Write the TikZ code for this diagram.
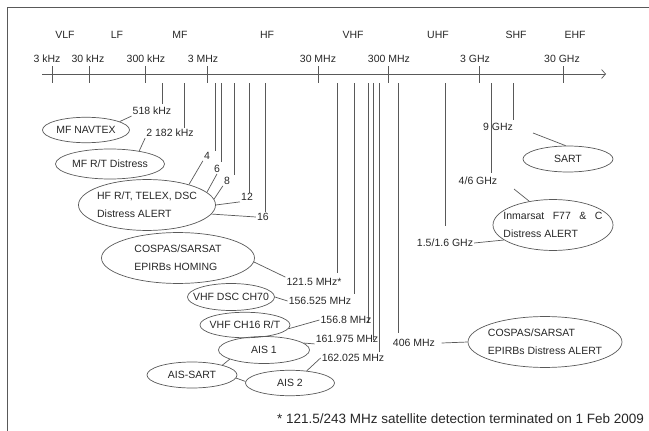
\documentclass[tikz,border=0pt]{standalone}
\usepackage{fontspec}
\setmainfont{Liberation Sans}
\usetikzlibrary{arrows.meta,shapes.geometric}

\newcommand{\bubtext}[1]{\makebox[0pt]{\begin{tabular}{@{}l@{}}#1\end{tabular}}}

\begin{document}
\begin{tikzpicture}[x=1pt, y=-1pt, font=\fontsize{10.5}{18}\selectfont, text=black!85,
        ln/.style={draw=black!65, line width=0.7pt},
        bubble/.style={draw=black!65, line width=0.7pt, ellipse, inner sep=0pt},
        lab/.style={inner sep=1pt}]
        \useasboundingbox (0,0) rectangle (649,431);
        \draw[ln] (7,431) -- (7,7) -- (649,7);

        \coordinate (axL) at (42,74);
        \coordinate (axR) at (606,74);
        \draw[ln, -{Straight Barb[length=4pt,width=9pt]}] (axL) -- (axR);
        \foreach \x/\lx/\txt [count=\i] in {52/47/3 kHz, 89/88/30 kHz, 145/146/300 kHz, 207/203/3 MHz,
                318/318/30 MHz, 388/389/300 MHz, 479/475/3 GHz, 563/562/30 GHz} {
            \draw[ln] (\x,66) -- (\x,83);
            \node[lab] (tick\i) at (\lx,59) {\txt};
        }
        \foreach \x/\txt in {65/VLF, 117/LF, 180/MF, 267/HF, 353/VHF, 438/UHF, 516/SHF, 575/EHF} {
            \node[lab] (\txt) at (\x,35) {\txt};
        }
        \foreach \n/\x/\y in {f518/162/104, f2182/184/128, f4/215/151, f6/221/162, f8/234/175,
                f12/249/193, f16/265/212, f1215/337/273, f156525/354/294, f1568/368/323,
                f161975/373/340, f162025/379/352, f406/398/333, f15G/445/226, f46G/491/173, f9G/513/120} {
            \coordinate (\n top) at (\x,83);
            \coordinate (\n) at (\x,\y);
            \draw[ln] (\n top) -- (\n);
        }

        \node[lab] (l518) at (152,111) {518 kHz};
        \node[lab] (l2182) at (170,133) {2 182 kHz};
        \node[lab] (l4) at (207,156) {4};
        \node[lab] (l6) at (217,169) {6};
        \node[lab] (l8) at (227,181) {8};
        \node[lab] (l12) at (247,197) {12};
        \node[lab] (l16) at (263,217) {16};
        \node[lab] (l1215) at (314,282) {121.5 MHz*};
        \node[lab] (l156525) at (320,301) {156.525 MHz};
        \node[lab] (l1568) at (346,320) {156.8 MHz};
        \node[lab] (l161975) at (347,339) {161.975 MHz};
        \node[lab] (l162025) at (353,358) {162.025 MHz};
        \node[lab] (l406) at (414,343) {406 MHz};
        \node[lab] (l15G) at (445,243) {1.5/1.6 GHz};
        \node[lab] (l46G) at (478,181) {4/6 GHz};
        \node[lab] (l9G) at (498,127) {9 GHz};

        \node[bubble, minimum width=87pt, minimum height=24pt] (navtex) at (86,130) {\bubtext{MF NAVTEX}};
        \node[bubble, minimum width=109pt, minimum height=30pt] (mfrt) at (110,164) {\bubtext{MF R/T Distress}};
        \node[bubble, minimum width=137pt, minimum height=44pt] (hfdsc) at (147,205) {\bubtext{HF R/T, TELEX, DSC\\Distress ALERT}};
        \node[bubble, minimum width=153pt, minimum height=48pt] (homing) at (178,258) {\bubtext{COSPAS/SARSAT\\EPIRBs HOMING}};
        \node[bubble, minimum width=87pt, minimum height=27pt] (ch70) at (231,297) {\bubtext{VHF DSC CH70}};
        \node[bubble, minimum width=90pt, minimum height=25pt] (ch16) at (245,325) {\bubtext{VHF CH16 R/T}};
        \node[bubble, minimum width=91pt, minimum height=27pt] (ais1) at (264,350) {\bubtext{AIS 1}};
        \node[bubble, minimum width=89pt, minimum height=25pt] (ais2) at (290,383) {\bubtext{AIS 2}};
        \node[bubble, minimum width=90pt, minimum height=26pt] (aissart) at (192,375) {\bubtext{AIS-SART}};
        \node[bubble, minimum width=154pt, minimum height=49pt] (epirb) at (545,342) {\bubtext{COSPAS/SARSAT\\EPIRBs Distress ALERT}};
        \node[bubble, minimum width=120pt, minimum height=45pt] (inmarsat) at (553,225) {\bubtext{Inmarsat\hspace{8.5pt}F77\hspace{8.5pt}\&\hspace{8.5pt}C\\Distress ALERT}};
        \node[bubble, minimum width=90pt, minimum height=26pt] (sart) at (568,159) {\bubtext{SART}};

        \draw[ln] (navtex.14) -- (l518.south west);
        \draw[ln] (mfrt.24) -- (l2182.south west);
        \draw[ln] (hfdsc.26) -- (l4.south west);
        \draw[ln] (hfdsc.12) -- (l6.south);
        \draw[ln] (hfdsc.5) -- (l8.south west);
        \draw[ln] (hfdsc.0) -- (l12.south west);
        \draw[ln] (hfdsc.-8) -- (l16.west);
        \draw[ln] (homing.-3) -- (l1215.north west);
        \draw[ln] (ch70.east) -- (l156525.west);
        \draw[ln] (ch16.-5) -- (l1568.west);
        \draw[ln] (ais1.10) -- (l161975.south west);
        \draw[ln] (ais2.36) -- (l162025.west);
        \draw[ln] (aissart.18) -- (ais1.195);
        \draw[ln] (aissart.-4) -- (ais2.178);
        \draw[ln] ([xshift=5.5pt]l406.east) -- (epirb.west);
        \draw[ln] (l15G.east) -- (inmarsat.197);
        \coordinate (c46G) at (514,189);
        \coordinate (c9G) at (533,133);
        \draw[ln] (c46G) -- (inmarsat.135);
        \draw[ln] (c9G) -- (sart.100);

        \node[lab, font=\fontsize{13.5}{16}\selectfont] (note) at (460.5,419) {* 121.5/243 MHz satellite detection terminated on 1 Feb 2009};
    \end{tikzpicture}
\end{document}
